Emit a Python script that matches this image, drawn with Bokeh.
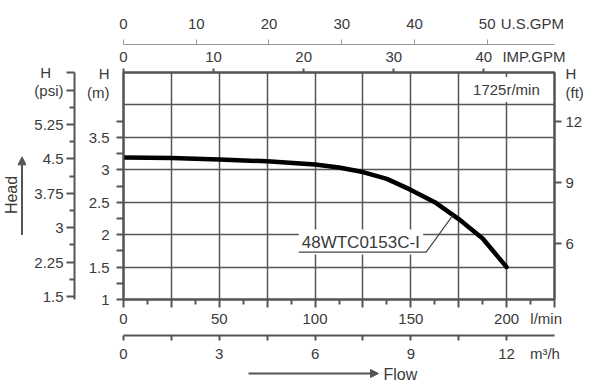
from bokeh.plotting import figure
from bokeh.models import Range1d, LinearAxis, FixedTicker, Label, Arrow, NormalHead
from bokeh.layouts import row, column
from bokeh.embed import file_html
from bokeh.resources import INLINE
import numpy as np

# ---------------- data ----------------
flow_lpm = [0, 25, 50, 75, 100, 112.5, 125, 137.5, 150, 162.5, 175, 187.5, 200]
head_m = [3.19, 3.18, 3.16, 3.13, 3.08, 3.035, 2.965, 2.86, 2.69, 2.50, 2.24, 1.94, 1.50]
series_name = "48WTC0153C-\u2160"
speed_text = "1725r/min"

NB = "\u00a0"
lpm_ticks = [0, 25, 50, 75, 100, 125, 150, 175, 200, 225]
lpm_labels = ["0", "", "50", "", "100", "", "150", "", "200", "l/min" + NB * 4]
lpm_minor = [12.5, 37.5, 62.5, 87.5, 112.5, 137.5, 162.5, 187.5, 212.5]
m3h_ticks = [0, 3, 6, 9, 12, 13.2]
m3h_labels = ["0", "3", "6", "9", "12", "m\u00b3/h"]
m3h_marks = [0, 1.5, 3, 4.5, 6, 7.5, 9, 10.5, 12]
imp_ticks = [0, 10, 20, 30, 40, 45.57]
imp_labels = ["0", "10", "20", "30", "40", "IMP.GPM"]
imp_marks = [0, 10, 20, 30, 40]
us_ticks = [0, 10, 20, 30, 40, 50, 56.2]
us_labels = ["0", "10", "20", "30", "40", "50", "U.S.GPM"]
us_marks = [0, 10, 20, 30, 40, 50]
m_ticks = [1, 1.5, 2, 2.5, 3, 3.5, 4.19, 4.484]
m_labels = ["1", "1.5", "2", "2.5", "3", "3.5", "(m)", "H"]
m_marks = [1, 1.25, 1.5, 1.75, 2, 2.25, 2.5, 2.75, 3, 3.25, 3.5, 3.75]
psi_ticks = [1.5, 2.25, 3, 3.75, 4.5, 5.25, 6.0, 6.375]
psi_labels = ["1.5", "2.25", "3", "3.75", "4.5", "5.25", "(psi)", "H" + NB * 3]
psi_minor = [1.875, 2.625, 3.375, 4.125, 4.875, 5.625]
ft_ticks = [6, 9, 12, 13.42, 14.36]
ft_labels = ["6", "9", "12", "(ft)", "H"]
ft_marks = [6, 9, 12]
grid_x = [25, 50, 75, 100, 125, 150, 175, 200]
grid_y = [1.5, 2, 2.5, 3, 3.5, 4]

# axis calibrations (as printed on the chart)
x_lpm = (0, 225)
y_m = (1, 4.5)
x_imp = (0, 47.85)
x_us = (0, 59.25)
x_m3h = (0, 13.5)
y_psi = (1.435, 6.384)
y_ft = (3.267, 14.405)

FONT = "Liberation Sans"
TXT = "#3a3a3a"
LINE = "#555555"

LW, MW, MH, BH = 26, 566, 366, 18   # left strip, main width/height, bottom strip

p = figure(width=MW, height=MH, x_range=Range1d(*x_lpm), y_range=Range1d(*y_m),
           output_backend="svg", toolbar_location=None,
           min_border_left=97, min_border_right=38, min_border_top=72, min_border_bottom=67)
p.background_fill_color = "white"
p.border_fill_color = "white"
p.outline_line_color = "#444444"
p.outline_line_width = 2

p.extra_x_ranges = {"imp": Range1d(*x_imp), "us": Range1d(*x_us), "m3h": Range1d(*x_m3h)}
p.extra_y_ranges = {"psi": Range1d(*y_psi), "ft": Range1d(*y_ft)}


def style(ax, ticks, labels, minor=None, tick_out=8, minor_out=5, standoff=4, width=2, color=LINE):
    ax.ticker = FixedTicker(ticks=ticks, minor_ticks=minor or [])
    ax.major_label_overrides = {t: l for t, l in zip(ticks, labels)}
    ax.major_tick_out = tick_out
    ax.major_tick_in = 0
    ax.minor_tick_out = minor_out
    ax.minor_tick_in = 0
    ax.major_tick_line_color = color
    ax.minor_tick_line_color = color
    ax.major_tick_line_width = width
    ax.minor_tick_line_width = width
    ax.axis_line_color = color
    ax.axis_line_width = width
    ax.major_label_text_font = FONT
    ax.major_label_text_font_size = "15px"
    ax.major_label_text_color = TXT
    ax.major_label_standoff = standoff


def pad(ax, size, standoff):
    """Blank axis label that only reserves a little room before the next scale."""
    ax.axis_label = NB
    ax.axis_label_text_font_size = size
    ax.axis_label_standoff = standoff


# bottom l/min axis (default)
xb = p.xaxis[0]
style(xb, lpm_ticks, lpm_labels, lpm_minor, 8, 5, 2)
pad(xb, "2px", 1)
# second bottom: m3/h
ax_m3h = LinearAxis(x_range_name="m3h")
style(ax_m3h, m3h_ticks, m3h_labels, m3h_marks, 0, 5, 4)
p.add_layout(ax_m3h, "below")

# left m axis (default): numbers/labels as majors, all marks as minors
yl = p.yaxis[0]
style(yl, m_ticks, m_labels, m_marks, 0, 7, 7)
pad(yl, "6px", 1)
# left psi
ax_psi = LinearAxis(y_range_name="psi")
style(ax_psi, psi_ticks, psi_labels, psi_minor, 8, 5, 3)
p.add_layout(ax_psi, "left")

# right ft
ax_ft = LinearAxis(y_range_name="ft")
style(ax_ft, ft_ticks, ft_labels, ft_marks, 0, 7, 4)
p.add_layout(ax_ft, "right")

# top IMP
ax_imp = LinearAxis(x_range_name="imp")
style(ax_imp, imp_ticks, imp_labels, imp_marks, 0, 4, 4)
p.add_layout(ax_imp, "above")
# top US
ax_us = LinearAxis(x_range_name="us")
style(ax_us, us_ticks, us_labels, us_marks, 0, 5, 8, width=1, color="#999999")
p.add_layout(ax_us, "above")

# grid
p.xgrid.ticker = FixedTicker(ticks=grid_x)
p.ygrid.ticker = FixedTicker(ticks=grid_y)
for g in (p.xgrid[0], p.ygrid[0]):
    g.grid_line_color = LINE
    g.grid_line_width = 1.5

# curve
p.line(flow_lpm, head_m, line_color="black", line_width=4.5, line_cap="round", line_join="round")

# callout for the model name
lab_flow_start, lab_flow_end, lab_head, leader_flow = 91.5, 158.0, 1.73, 172.0
leader_head = float(np.interp(leader_flow, flow_lpm, head_m))
p.add_layout(Label(x=lab_flow_start, y=1.885, text=series_name, text_font=FONT,
                   text_font_size="17px", text_color=TXT, text_baseline="middle",
                   background_fill_color="white", padding=3))
p.line([lab_flow_start, lab_flow_end, leader_flow], [lab_head, lab_head, leader_head],
       line_color="#444444", line_width=1.2, level="overlay")

p.add_layout(Label(x=219.4, y=4.238, text=speed_text, text_font=FONT, text_font_size="15px",
                   text_color=TXT, text_align="right", text_baseline="middle",
                   background_fill_color="white", padding=4))


# ---- decoration strips (page-pixel coordinates) ----
def strip(w, h, y0):
    s = figure(width=w, height=h, x_range=Range1d(0, w), y_range=Range1d(y0 + h, y0),
               output_backend="svg", toolbar_location=None, min_border=0,
               x_axis_location=None, y_axis_location=None)
    s.outline_line_color = None
    s.background_fill_color = "white"
    s.border_fill_color = "white"
    s.grid.visible = False
    return s


left = strip(LW, MH, 0)
left.add_layout(Label(x=11, y=197.5, text="Head", text_font=FONT, text_font_size="16px",
                      text_color=TXT, text_align="center", text_baseline="middle",
                      angle=np.pi / 2))
left.add_layout(Arrow(x_start=21.5, y_start=262, x_end=21.5, y_end=136,
                      line_color="#555555", line_width=2,
                      end=NormalHead(size=8, line_color="#555555", fill_color="#555555")))

bottom = strip(LW + MW, BH, MH)
bottom.add_layout(Arrow(x_start=248, y_start=373, x_end=378, y_end=373,
                        line_color="#555555", line_width=2,
                        end=NormalHead(size=8, line_color="#555555", fill_color="#555555")))
bottom.add_layout(Label(x=383, y=373.5, text="Flow", text_font=FONT, text_font_size="16px",
                        text_color=TXT, text_align="left", text_baseline="middle"))

layout = column(row(left, p, spacing=0), bottom, spacing=0)
open("out.html", "w").write(file_html(layout, INLINE))
